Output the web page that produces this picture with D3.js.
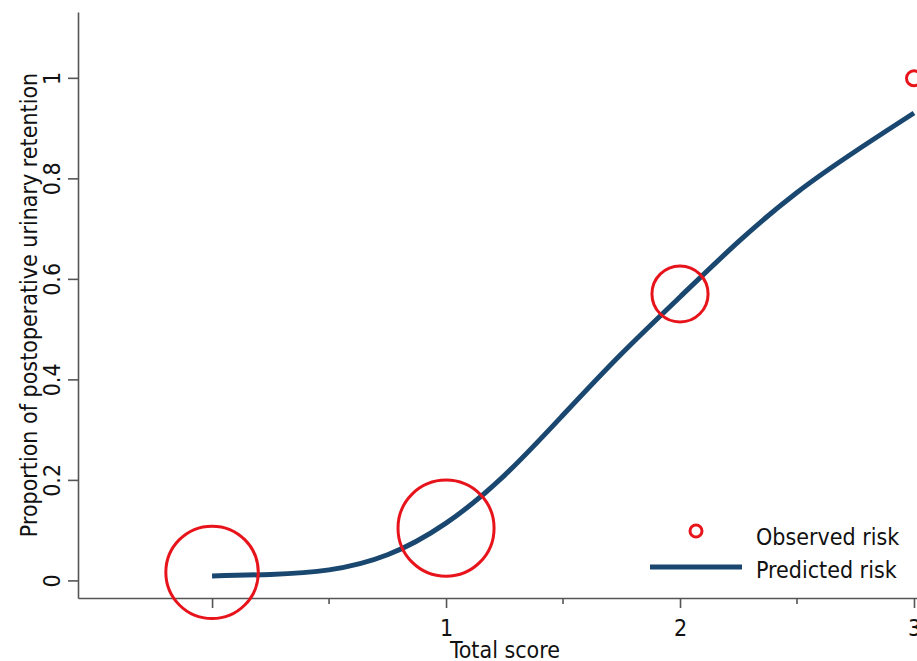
<!DOCTYPE html>
<html>
<head>
<meta charset="utf-8">
<script src="https://cdn.jsdelivr.net/npm/d3@7"></script>
<style>
  body { margin: 0; background: #fff; }
  svg { display: block; overflow: hidden; }
  text { font-family: "DejaVu Sans Condensed", "DejaVu Sans", sans-serif; fill: #111; }
  .axis path, .axis line { stroke: #555; stroke-width: 1.6; }
</style>
</head>
<body>
<div id="chart"></div>
<script>
// observed risk per total score (circle size ~ number of patients)
const scores = [0, 1, 2, 3]
const observed = [0.017, 0.105, 0.571, 1.0]
const patients = [38, 41, 14, 1]

// predicted risk
const predX = [0, 0.25, 0.5, 0.75, 1, 1.25, 1.5, 1.75, 2, 2.25, 2.5, 2.75, 3]
const predY = [0.010, 0.013, 0.022, 0.052, 0.115, 0.21, 0.33, 0.452, 0.565, 0.675, 0.773, 0.855, 0.931]

const xTicks = [0, 1, 2, 3]
const xTickLabels = ['', '1', '2', '3']
const xMinorTicks = [0.5, 1.5, 2.5]
const yTicks = [0, 0.2, 0.4, 0.6, 0.8, 1]

const width = 917
const height = 661
const margin = { top: 12, left: 78, bottom: 63, right: -15 }
const fontSize = '23px'
const fontFamily = '"DejaVu Sans Condensed", "DejaVu Sans", sans-serif'

const svg = d3.select('#chart')
    .append('svg')
    .attr('width', width)
    .attr('height', height)

const xScale = d3.scaleLinear()
    .domain([-0.573, 3.077])
    .range([margin.left, width - margin.right])
const yScale = d3.scaleLinear()
    .domain([-0.034, 1.132])
    .range([height - margin.bottom, margin.top])
const rScale = d3.scaleSqrt()
    .domain([0, 1])
    .range([0, 7.5])

const plotBottom = height - margin.bottom

// y axis, labels turned sideways like the original
const yAxis = svg.append('g')
    .attr('class', 'axis')
    .attr('transform', `translate(${margin.left},0)`)
    .call(d3.axisLeft(yScale).tickValues(yTicks).tickSize(10).tickSizeOuter(0).tickFormat(d3.format('~g')))
yAxis.selectAll('text')
    .attr('x', 0).attr('y', 0).attr('dy', 0)
    .attr('transform', d => `translate(-18,${yScale(d)}) rotate(-90)`)
    .attr('text-anchor', 'middle')
    .style('font-size', fontSize)
    .style('font-family', fontFamily)
    .attr('fill', '#111')
yAxis.selectAll('.tick').attr('transform', null)
yAxis.selectAll('.tick line').attr('transform', d => `translate(0,${yScale(d)})`)

// x axis
const xAxis = svg.append('g')
    .attr('class', 'axis')
    .attr('transform', `translate(0,${plotBottom})`)
    .call(d3.axisBottom(xScale).tickValues(xTicks).tickSize(10).tickSizeOuter(0)
        .tickFormat((d, i) => xTickLabels[i]))
xAxis.selectAll('text')
    .attr('y', 38)
    .attr('dy', 0)
    .style('font-size', fontSize)
    .style('font-family', fontFamily)
    .attr('fill', '#111')
xAxis.selectAll('.minor')
    .data(xMinorTicks)
    .enter()
    .append('line')
    .attr('class', 'minor')
    .attr('x1', d => xScale(d)).attr('x2', d => xScale(d))
    .attr('y1', 0).attr('y2', 6)

// axis titles
svg.append('text')
    .attr('text-anchor', 'middle')
    .attr('transform', `translate(37,${(margin.top + plotBottom) / 2}) rotate(-90)`)
    .style('font-size', fontSize)
    .text('Proportion of postoperative urinary retention')
svg.append('text')
    .attr('text-anchor', 'middle')
    .attr('x', (xScale.range()[0] + xScale.range()[1]) / 2)
    .attr('y', 658)
    .style('font-size', fontSize)
    .text('Total score')

// predicted curve
const line = d3.line()
    .x((d, i) => xScale(predX[i]))
    .y(d => yScale(d))
    .curve(d3.curveNatural)
svg.append('path')
    .datum(predY)
    .attr('d', line)
    .attr('fill', 'none')
    .attr('stroke', '#1a476f')
    .attr('stroke-width', 5)

// observed circles
svg.append('g')
    .selectAll('circle')
    .data(observed)
    .enter()
    .append('circle')
    .attr('cx', (d, i) => xScale(scores[i]))
    .attr('cy', d => yScale(d))
    .attr('r', (d, i) => rScale(patients[i]))
    .attr('fill', 'none')
    .attr('stroke', '#e8141b')
    .attr('stroke-width', 3)

// legend
const legend = svg.append('g').attr('transform', 'translate(650,0)')
legend.append('circle')
    .attr('cx', 46).attr('cy', 531).attr('r', 6)
    .attr('fill', 'none').attr('stroke', '#e8141b').attr('stroke-width', 3)
legend.append('text')
    .attr('x', 106).attr('y', 545)
    .style('font-size', fontSize)
    .text('Observed risk')
legend.append('line')
    .attr('x1', 0).attr('x2', 92).attr('y1', 567).attr('y2', 567)
    .attr('stroke', '#1a476f').attr('stroke-width', 5)
legend.append('text')
    .attr('x', 106).attr('y', 578)
    .style('font-size', fontSize)
    .text('Predicted risk')
</script>
</body>
</html>
